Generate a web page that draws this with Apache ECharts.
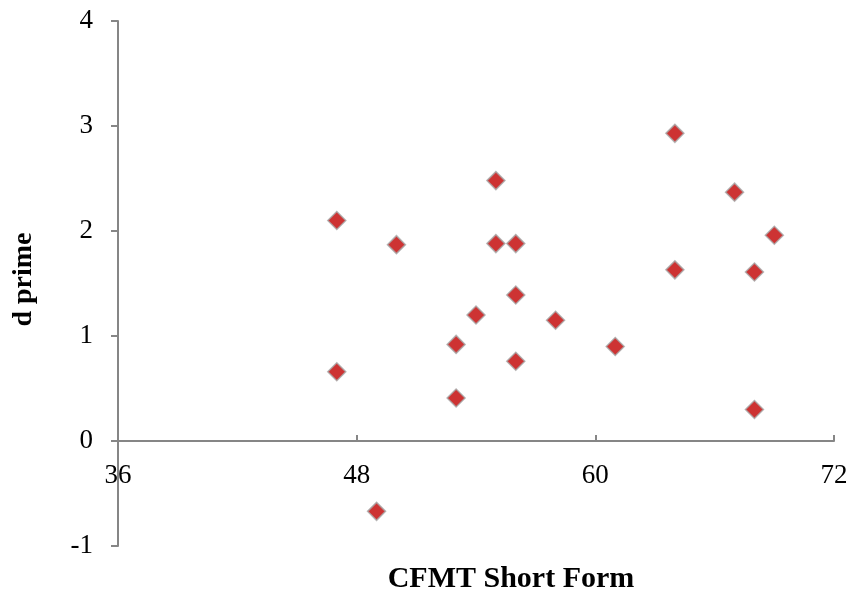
<!DOCTYPE html>
<html>
<head>
<meta charset="utf-8">
<script src="https://cdn.jsdelivr.net/npm/echarts@6/dist/echarts.min.js"></script>
<style>
  html, body { margin: 0; padding: 0; background: #fff; }
  #chart { width: 851px; height: 591px; }
</style>
</head>
<body>
<div id="chart"></div>
<script>
// CFMT score vs d prime
var cfmt = [47, 47, 49, 50, 53, 53, 54, 55, 55, 56, 56, 56, 58, 61, 64, 64, 67, 68, 68, 69];
var dprime = [2.10, 0.66, -0.67, 1.87, 0.92, 0.41, 1.20, 2.48, 1.88, 1.88, 1.39, 0.76, 1.15, 0.90, 2.93, 1.63, 2.37, 1.61, 0.30, 1.96];

var pts = [];
for (var i = 0; i < cfmt.length; i++) {
    pts.push([cfmt[i], dprime[i]]);
}

var font = 'Liberation Serif, Times New Roman, serif';
var axisGray = '#868686';

var chart = echarts.init(document.getElementById('chart'));
chart.setOption({
    animation: false,
    grid: { left: 118, right: 17, top: 21, bottom: 45, containLabel: false, outerBoundsMode: 'none' },
    xAxis: {
        type: 'value', min: 36, max: 72, interval: 12,
        name: 'CFMT Short Form', nameLocation: 'middle', nameGap: 18,
        nameTextStyle: { fontFamily: font, fontWeight: 'bold', fontSize: 30, color: '#000', padding: [0, 0, 0, 70] },
        axisLine: { onZero: true, lineStyle: { color: axisGray, width: 2 } },
        axisTick: { show: true, inside: true, length: 6, lineStyle: { color: axisGray, width: 2 } },
        // labels sit just under the zero line, not at the grid bottom
        axisLabel: { fontFamily: font, fontSize: 27, color: '#000', margin: -84 },
        splitLine: { show: false }
    },
    yAxis: {
        type: 'value', min: -1, max: 4, interval: 1,
        name: 'd prime', nameLocation: 'middle', nameGap: 80, nameRotate: 90,
        nameTextStyle: { fontFamily: font, fontWeight: 'bold', fontSize: 28, color: '#000', padding: [0, 0, 0, 8] },
        axisLine: { show: true, lineStyle: { color: axisGray, width: 2 } },
        axisTick: { show: true, length: 7, lineStyle: { color: axisGray, width: 2 } },
        axisLabel: { fontFamily: font, fontSize: 27, color: '#000', margin: 25 },
        splitLine: { show: false }
    },
    series: [{
        type: 'scatter',
        data: pts,
        symbol: 'diamond',
        symbolSize: 18,
        itemStyle: { color: '#c00000', borderColor: '#a6a6a6', borderWidth: 1.5 }
    }]
});
</script>
</body>
</html>
